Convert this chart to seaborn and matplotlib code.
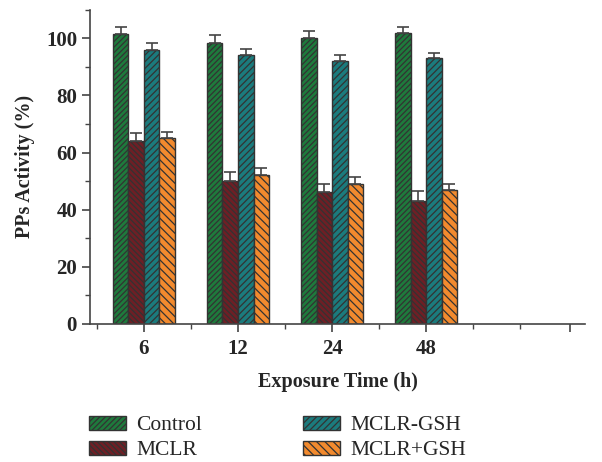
import pandas as pd
import matplotlib.pyplot as plt
import seaborn as sns
import numpy as np
from matplotlib.patches import Patch
from matplotlib.ticker import MultipleLocator, FixedLocator

# Data
times = ['6', '12', '24', '48']
groups = ['Control', 'MCLR', 'MCLR-GSH', 'MCLR+GSH']
control = [101.5, 98.5, 100, 102]
mclr = [64, 50, 46, 43]
mclr_gsh = [96, 94, 92, 93]
mclr_plus_gsh = [65, 52, 49, 47]
control_err = [2.4, 2.6, 2.5, 2.0]
mclr_err = [2.8, 3.0, 3.0, 3.5]
mclr_gsh_err = [2.3, 2.3, 2.0, 1.9]
mclr_plus_gsh_err = [2.2, 2.4, 2.5, 2.0]

values = [control, mclr, mclr_gsh, mclr_plus_gsh]
errors = [control_err, mclr_err, mclr_gsh_err, mclr_plus_gsh_err]

df = pd.DataFrame({
    'time': times * 4,
    'group': np.repeat(groups, 4),
    'activity': np.concatenate(values),
})

colors = ['#1e7a3c', '#6e1f25', '#1b7b7d', '#f28a2e']
hatches = ['//////', '\\\\\\\\\\\\', '/////', '\\\\\\\\']

sns.set_style('ticks')
plt.rcParams['font.family'] = ['Liberation Serif', 'DejaVu Serif']
plt.rcParams['hatch.linewidth'] = 0.9

fig = plt.figure(figsize=(6.02, 4.62), dpi=100)
ax = fig.add_axes([0.15, 0.299, 0.822, 0.68])

sns.barplot(data=df, x='time', y='activity', hue='group', order=times,
            hue_order=groups, palette=colors, width=0.66, saturation=1,
            edgecolor='#333333', linewidth=1.0, errorbar=None, ax=ax)

for cont, hatch, errs in zip(ax.containers, hatches, errors):
    xs, ys = [], []
    for bar in cont:
        bar.set_hatch(hatch)
        xs.append(bar.get_x() + bar.get_width() / 2)
        ys.append(bar.get_height())
    ax.errorbar(xs, ys, yerr=[np.zeros(len(errs)), errs], fmt='none',
                ecolor='#444444', elinewidth=1.2, capsize=4, capthick=1.2)

if ax.get_legend() is not None:
    ax.get_legend().remove()

ax.set_xlim(-0.57, 4.69)
ax.set_ylim(0, 110)
ax.xaxis.set_major_locator(FixedLocator([0, 1, 2, 3, 4.53]))
ax.set_xticklabels(times + [''])
ax.xaxis.set_minor_locator(FixedLocator([-0.5, 0.5, 1.5, 2.5, 3.5, 4.0]))
ax.yaxis.set_major_locator(MultipleLocator(20))
ax.yaxis.set_minor_locator(MultipleLocator(10))
ax.tick_params(which='major', length=6, width=1.2, color='#444444')
ax.tick_params(which='minor', length=3.5, width=1.0, color='#444444')
ax.tick_params(axis='both', labelsize=15)
ax.tick_params(axis='x', pad=5)
for lab in ax.get_xticklabels() + ax.get_yticklabels():
    lab.set_fontweight('bold')

sns.despine(ax=ax)
for sp in ['left', 'bottom']:
    ax.spines[sp].set_linewidth(1.2)
    ax.spines[sp].set_color('#444444')

ax.set_xlabel('Exposure Time (h)', fontsize=14.5, fontweight='bold', labelpad=9)
ax.set_ylabel('PPs Activity (%)', fontsize=14.5, fontweight='bold', labelpad=8)

handles = [Patch(facecolor=c, edgecolor='#333333', hatch=h, label=g)
           for c, h, g in zip(colors, hatches, groups)]
fig.legend(handles=handles, ncol=2, loc='lower left',
           bbox_to_anchor=(0.13, -0.020), frameon=False, fontsize=15.5,
           borderpad=0, handlelength=1.7, handleheight=0.65,
           columnspacing=4.7, labelspacing=0.25, handletextpad=0.5)

plt.savefig('out.png', dpi=100)
